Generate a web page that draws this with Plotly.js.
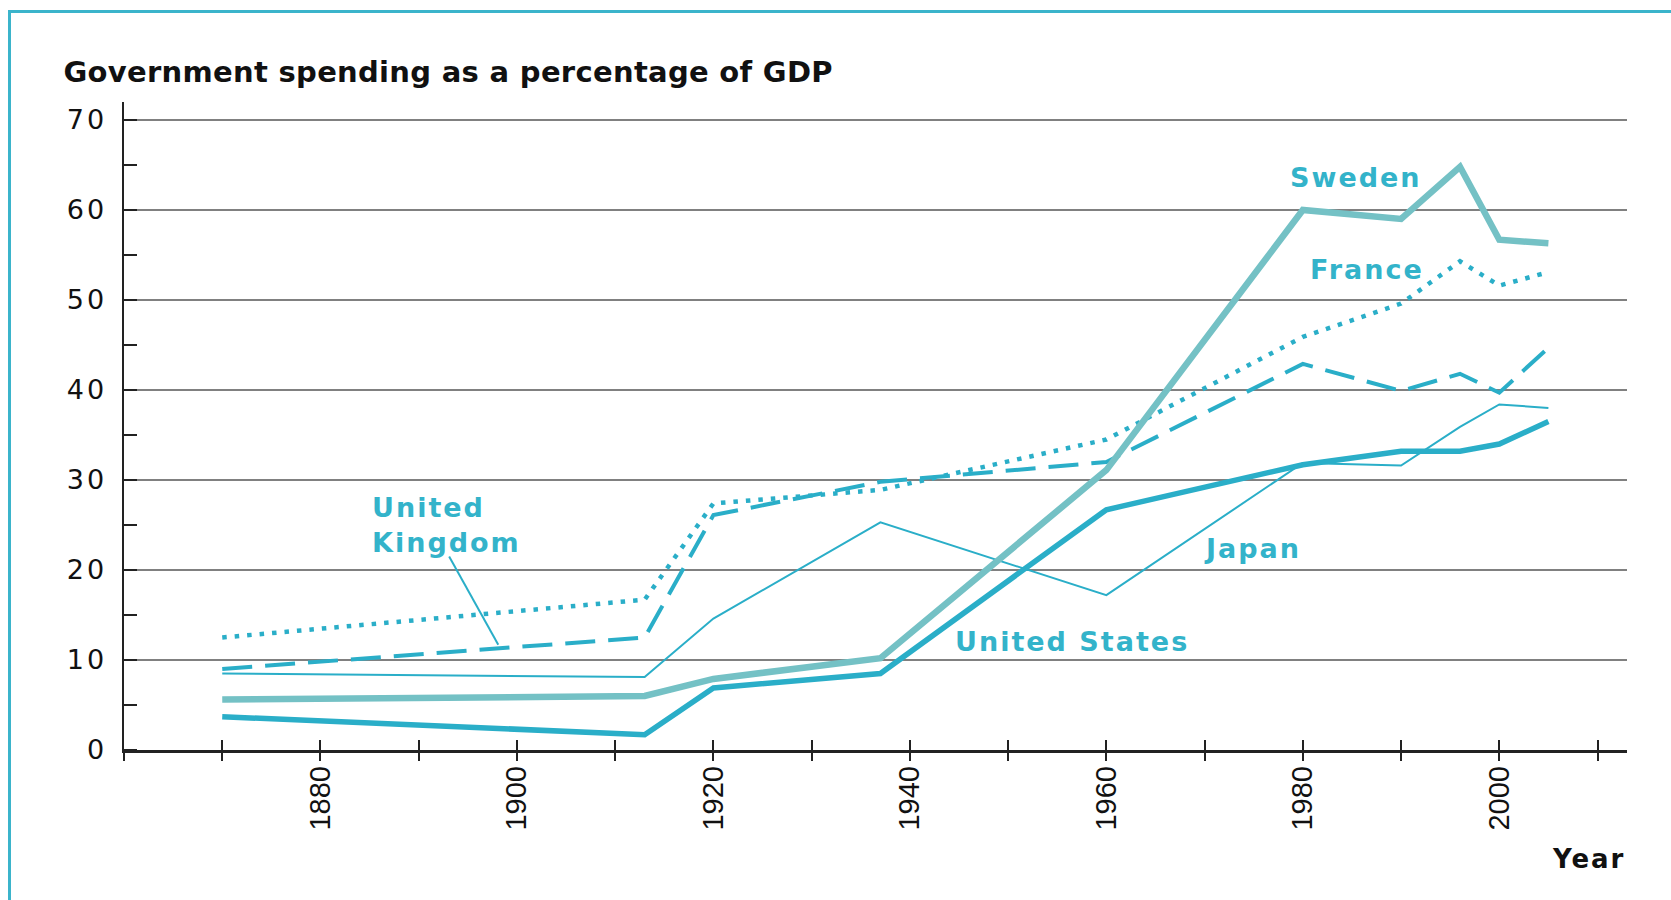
<!DOCTYPE html>
<html>
<head>
<meta charset="utf-8">
<script src="https://cdn.plot.ly/plotly-3.0.1.min.js"></script>
<style>
  html, body { margin: 0; padding: 0; background: #ffffff; }
  #wrap { position: relative; width: 1671px; height: 900px; overflow: hidden; }
  #chart { position: absolute; left: 0; top: 0; width: 1671px; height: 900px; }
  #frame { position: absolute; left: 8px; top: 10px; width: 1700px; height: 1000px;
           border-top: 3px solid #3bb4cb; border-left: 3px solid #3bb4cb; pointer-events: none; }
  .annotation-text { letter-spacing: 2px; }
  .gtitle { letter-spacing: 0.3px; }
  .ytick text { letter-spacing: 3px; }
</style>
</head>
<body>
<div id="wrap">
  <div id="chart"></div>
  <div id="frame"></div>
</div>
<script>
// ---- Data ----
const years = [1870, 1913, 1920, 1937, 1960, 1980, 1990, 1996, 2000, 2005];
const sweden       = [5.6, 6.0, 7.9, 10.2, 31.1, 60.0, 59.0, 64.8, 56.7, 56.3];
const unitedStates = [3.7, 1.7, 6.9, 8.5, 26.7, 31.7, 33.2, 33.2, 34.0, 36.5];
const japan        = [8.5, 8.1, 14.6, 25.3, 17.2, 31.9, 31.6, 35.9, 38.4, 38.0];
const unitedKingdom= [9.0, 12.5, 26.1, 29.8, 32.0, 42.9, 39.9, 41.8, 39.7, 44.7];
const france       = [12.5, 16.7, 27.4, 28.9, 34.5, 45.9, 49.6, 54.3, 51.6, 53.1];

const xTickVals = [1880, 1900, 1920, 1940, 1960, 1980, 2000];
const xTickText = ["1880", "1900", "1920", "1940", "1960", "1980", "2000"];
const yTickVals = [0, 10, 20, 30, 40, 50, 60, 70];
const yTickText = ["0", "10", "20", "30", "40", "50", "60", "70"];

const titleText = "Government spending as a percentage of GDP";
const xTitleText = "Year";

// series labels: [text, year, value]
const labelSweden  = ["Sweden", 1985.4, 63.6];
const labelFrance  = ["France", 1986.5, 53.4];
const labelUK      = ["United<br>Kingdom", 1885.0, 25.0];
const labelJapan   = ["Japan", 1974.9, 22.4];
const labelUS      = ["United States", 1956.5, 12.1];
const ukLeaderFrom = [1893.1, 21.5];
const ukLeaderTo   = [1898.1, 11.7];

// ---- Styles ----
const teal = "#2aaec8";
const lightTeal = "#74c1c5";
const labelColor = "#33b3ca";
const labelFont = {family: "DejaVu Sans, sans-serif", size: 27, color: labelColor, weight: 700};

const traces = [
  {x: years, y: japan, mode: "lines", line: {color: teal, width: 2}, name: "Japan"},
  {x: years, y: france, mode: "lines", line: {color: teal, width: 4.5, dash: "4.5px,8px"}, name: "France"},
  {x: years, y: unitedKingdom, mode: "lines", line: {color: teal, width: 4, dash: "30px,13px"}, name: "United Kingdom"},
  {x: years, y: unitedStates, mode: "lines", line: {color: teal, width: 5.5}, name: "United States"},
  {x: years, y: sweden, mode: "lines", line: {color: lightTeal, width: 6.5}, name: "Sweden"},
  // dummy trace on overlay axis so that the second x-axis is drawn
  {x: [years[0]], y: [sweden[0]], xaxis: "x2", mode: "lines", line: {width: 0}, hoverinfo: "skip", showlegend: false}
];

function lab(l, extra) {
  return Object.assign({text: l[0], x: l[1], y: l[2], xref: "x", yref: "y", showarrow: false,
    font: labelFont, xanchor: "center", yanchor: "middle"}, extra || {});
}

const layout = {
  width: 1671, height: 900,
  paper_bgcolor: "rgba(0,0,0,0)", plot_bgcolor: "rgba(0,0,0,0)",
  showlegend: false,
  margin: {l: 124, r: 44, t: 102, b: 150},
  title: {text: titleText, xref: "container", yref: "container", x: 0.038, xanchor: "left",
          y: 0.92, yanchor: "middle",
          font: {family: "DejaVu Sans, sans-serif", size: 29, color: "#111111", weight: 700}},
  xaxis: {
    range: [1860, 2013], showgrid: false, zeroline: false,
    showline: true, linecolor: "#222222", linewidth: 2.5,
    tickmode: "array", tickvals: xTickVals, ticktext: xTickText,
    ticks: "inside", ticklen: 10, tickwidth: 2, tickcolor: "#222222",
    minor: {dtick: 10, tick0: 1870, ticks: "inside", ticklen: 10, tickwidth: 2, tickcolor: "#222222", showgrid: false},
    tickangle: -90, ticklabelstandoff: 2,
    tickfont: {family: "Liberation Sans, Arial, sans-serif", size: 29, color: "#111111"}
  },
  xaxis2: {
    overlaying: "x", matches: "x", side: "bottom", anchor: "y",
    showgrid: false, zeroline: false, showline: false, showticklabels: false,
    tickmode: "array", tickvals: xTickVals,
    ticks: "outside", ticklen: 10, tickwidth: 2, tickcolor: "#222222",
    minor: {dtick: 10, tick0: 1870, ticks: "outside", ticklen: 10, tickwidth: 2, tickcolor: "#222222", showgrid: false}
  },
  yaxis: {
    range: [0, 72], zeroline: false,
    showline: true, linecolor: "#222222", linewidth: 2.5,
    showgrid: true, gridcolor: "#808080", gridwidth: 2,
    tickmode: "array", tickvals: yTickVals, ticktext: yTickText,
    ticks: "", ticklabelstandoff: 9,
    minor: {dtick: 5, tick0: 5, ticks: "inside", ticklen: 13, tickwidth: 2, tickcolor: "#222222", showgrid: false},
    tickfont: {family: "DejaVu Sans, sans-serif", size: 27, color: "#111111"}
  },
  annotations: [
    lab(labelSweden), lab(labelFrance), lab(labelJapan), lab(labelUS),
    lab(labelUK, {xanchor: "left", align: "left"}),
    {text: xTitleText, xref: "paper", yref: "paper", x: 1, y: -0.168, xanchor: "right", yanchor: "middle",
     showarrow: false, font: {family: "DejaVu Sans, sans-serif", size: 26, color: "#111111", weight: 700}}
  ],
  shapes: [
    {type: "line", xref: "x", yref: "y", x0: ukLeaderFrom[0], y0: ukLeaderFrom[1], x1: ukLeaderTo[0], y1: ukLeaderTo[1],
     line: {color: teal, width: 2}}
  ]
};

Plotly.newPlot("chart", traces, layout, {staticPlot: true, displayModeBar: false});
</script>
</body>
</html>
